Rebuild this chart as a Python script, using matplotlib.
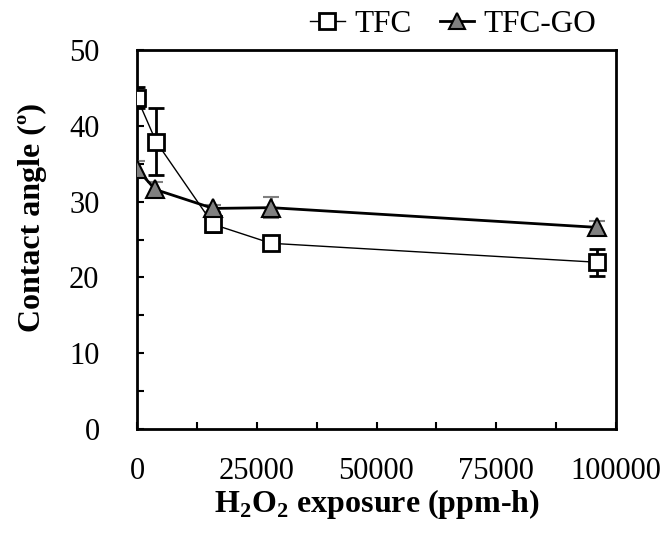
import numpy as np
import matplotlib
matplotlib.use("Agg")
from matplotlib import pyplot as plt
from matplotlib.ticker import MultipleLocator
from matplotlib.lines import Line2D

plt.rcParams['font.family'] = ['Liberation Serif', 'DejaVu Serif']
plt.rcParams['mathtext.fontset'] = 'custom'
plt.rcParams['mathtext.rm'] = 'Liberation Serif'
plt.rcParams['mathtext.bf'] = 'Liberation Serif:bold'

# данные
tfc_x = [0, 4000, 15900, 28000, 96000]
tfc_y = [43.7, 37.9, 27.0, 24.5, 22.0]
tfc_err = [1.4, 4.4, 1.0, 0.4, 1.8]

go_x = [0, 3800, 15900, 28000, 96000]
go_y = [34.3, 31.6, 29.1, 29.2, 26.6]
go_err = [1.0, 1.0, 0.5, 1.4, 0.9]

fig = plt.figure(figsize=(6.67, 5.34), dpi=100)
ax = fig.add_axes([137/667, 1-429/534, (616-137)/667, (429-50)/534])

ax.errorbar(tfc_x, tfc_y, yerr=tfc_err, color='black', lw=1, marker='s', markersize=12,
            markerfacecolor='white', markeredgecolor='black', markeredgewidth=2,
            ecolor='black', elinewidth=2, capsize=6, capthick=2, zorder=3)
ax.errorbar(go_x, go_y, yerr=go_err, color='black', lw=2, marker='^', markersize=13,
            markerfacecolor='#808080', markeredgecolor='black', markeredgewidth=1.5,
            ecolor='#808080', elinewidth=2, capsize=6, capthick=2, zorder=4)

ax.set_xlim(0, 100000)
ax.set_ylim(0, 50)
ax.xaxis.set_major_locator(MultipleLocator(25000))
ax.xaxis.set_minor_locator(MultipleLocator(12500))
ax.yaxis.set_major_locator(MultipleLocator(10))
ax.yaxis.set_minor_locator(MultipleLocator(5))
ax.tick_params(axis='both', which='both', labelsize=22, direction='in', length=5, width=1.5)
ax.tick_params(axis='x', which='major', pad=20)
ax.tick_params(axis='y', which='major', pad=27)
for s in ax.spines.values():
    s.set_linewidth(2)

ax.set_xlabel('H$_\\mathbf{2}$O$_\\mathbf{2}$ exposure (ppm-h)', fontsize=23, fontweight='bold', labelpad=1)
ax.set_ylabel('Contact angle (º)', fontsize=23, fontweight='bold')
ax.yaxis.set_label_coords(-90/479, (429-217)/379)
ax.yaxis.label.set_horizontalalignment('center')

h1 = Line2D([], [], color='black', lw=1, marker='s', markersize=11,
            markerfacecolor='white', markeredgecolor='black', markeredgewidth=2)
h2 = Line2D([], [], color='black', lw=2, marker='^', markersize=12,
            markerfacecolor='#808080', markeredgecolor='black', markeredgewidth=1.5)
fig.legend([h1, h2], ['TFC', 'TFC-GO'], loc='center right', bbox_to_anchor=(596/667, 1-24/534),
           ncol=2, frameon=False, fontsize=22.5, handlelength=1.1, handletextpad=0.3,
           columnspacing=0.9, borderpad=0, borderaxespad=0)

plt.savefig('out.png', dpi=100)
